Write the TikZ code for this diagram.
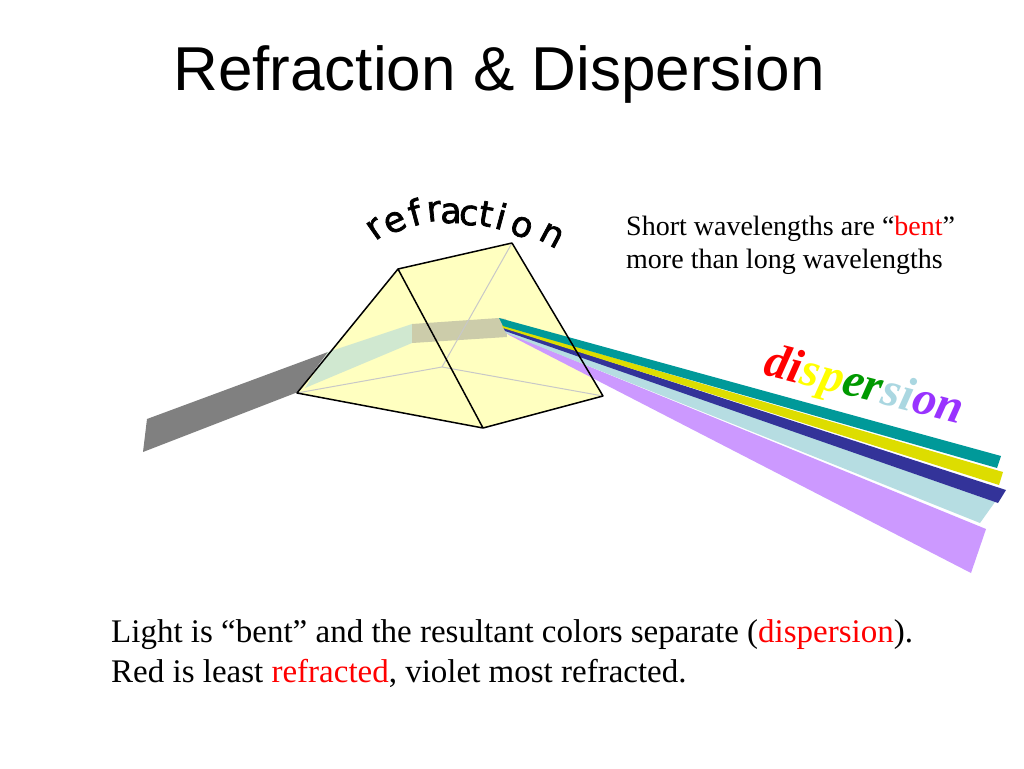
\documentclass[tikz,border=0pt]{standalone}
\usepackage{fontspec}
\setmainfont{Liberation Serif}
\newfontfamily\arialf{Liberation Sans}
\newfontfamily\comicf[FakeBold=2]{DejaVu Sans}
\usetikzlibrary{calc}
\definecolor{prismfill}{RGB}{255,255,192}
\definecolor{beamgray}{RGB}{128,128,128}
\definecolor{bandgreen}{RGB}{208,232,208}
\definecolor{bandtan}{RGB}{204,204,170}
\definecolor{hidgray}{RGB}{200,200,200}
\definecolor{bteal}{RGB}{0,153,153}
\definecolor{byellow}{RGB}{221,221,0}
\definecolor{bnavy}{RGB}{51,51,153}
\definecolor{blblue}{RGB}{182,221,226}
\definecolor{bviolet}{RGB}{204,153,255}
\definecolor{tred}{RGB}{255,0,0}
\definecolor{tyellow}{RGB}{255,255,0}
\definecolor{tgreen}{RGB}{0,153,0}
\definecolor{tlblue}{RGB}{170,215,225}
\definecolor{tpurple}{RGB}{153,51,255}
\newcommand{\refrfont}{\comicf\fontsize{35}{35}\selectfont}
\begin{document}
\begin{tikzpicture}[x=1pt,y=-1pt,
  edge/.style={line width=1.5pt,line join=round,line cap=round},
  hidden/.style={hidgray,line width=1pt},
  lett/.style={anchor=base,inner sep=0pt},
  notetext/.style={font=\fontsize{28}{28}\selectfont,anchor=base west,inner sep=0pt},
  captext/.style={font=\fontsize{33}{33}\selectfont,anchor=base west,inner sep=0pt}]
\useasboundingbox (0,0) rectangle (1024,768);
\fill[white] (0,0) rectangle (1024,768);
% prism vertices
\coordinate (A) at (398,269);
\coordinate (B) at (297,393);
\coordinate (C) at (483,428);
\coordinate (D) at (512,243);
\coordinate (E) at (442,367);
\coordinate (F) at (603,396);
\fill[prismfill] (B) -- (A) -- (D) -- (F) -- (C) -- cycle;
% incoming beam
\coordinate (g1) at (147,419);
\coordinate (g2) at (328,352);
\coordinate (g3) at (298,392);
\coordinate (g4) at (143,452);
\fill[beamgray] (g1) -- (g2) -- (g3) -- (g4) -- cycle;
% beam inside prism
\coordinate (h1) at (412,324);
\coordinate (h2) at (412,343);
\fill[bandgreen] (g2) -- (h1) -- (h2) -- (305,388) -- cycle;
\coordinate (k1) at (499,318);
\coordinate (k2) at (507,337);
\fill[bandtan] (h1) -- (k1) -- (506,319) -- (k2) -- (h2) -- cycle;
% hidden edges
\draw[hidden] (D) -- (E) (E) -- (B) (E) -- (F);
% dispersed beams
\fill[bviolet] (505,332) -- (986,529) -- (971,573) -- (509,335) -- cycle;
\fill[blblue] (504,329) -- (995,502) -- (980,523) -- (506,333) -- cycle;
\fill[bnavy] (503,327) -- (1006,490) -- (998,503) -- (505,331) -- cycle;
\fill[byellow] (502,325) -- (1003,472) -- (999,485) -- (503,328) -- cycle;
\fill[bteal] (k1) -- (1001,456) -- (997,468) -- (503,326) -- cycle;
% visible edges
\draw[edge] (A) -- (B) (A) -- (C) (A) -- (D) (D) -- (F) (B) -- (C) (C) -- (F);
% title
\node[font=\arialf\fontsize{62}{62}\selectfont,anchor=base,inner sep=0pt] (title) at (499,90) {Refraction \& Dispersion};
% refraction, letter by letter
\node[lett,rotate=35] (r1) at (381,237) {\refrfont r};
\node[lett,rotate=25] (r2) at (399,231) {\refrfont e};
\node[lett,rotate=15] (r3) at (418,225) {\refrfont f};
\node[lett,rotate=6] (r4) at (435,221) {\refrfont r};
\node[lett,rotate=0] (r5) at (451,223) {\refrfont a};
\node[lett,rotate=-4] (r6) at (468,225) {\refrfont c};
\node[lett,rotate=-10] (r7) at (484,226) {\refrfont t};
\node[lett,rotate=-15] (r8) at (498,229) {\refrfont i};
\node[lett,rotate=-22] (r9) at (518,236) {\refrfont o};
\node[lett,rotate=-28] (r10) at (547,244) {\refrfont n};
% note
\node[notetext] (note1) at (626,235) {Short wavelengths are ``\textcolor{tred}{bent}''};
\node[notetext] (note2) at (626,268) {more than long wavelengths};
% dispersion
\node[font=\fontsize{48}{48}\selectfont\bfseries\itshape,anchor=base,inner sep=0pt,rotate=-14] (disp) at (861,399)
  {\textcolor{tred}{di}\textcolor{tyellow}{sp}\textcolor{tgreen}{er}\textcolor{tlblue}{si}\textcolor{tpurple}{on}};
% caption
\node[captext] (cap1) at (111,642) {Light is ``bent'' and the resultant colors separate (\textcolor{tred}{dispersion}).};
\node[captext] (cap2) at (111,682) {Red is least \textcolor{tred}{refracted}, violet most refracted.};
\end{tikzpicture}
\end{document}
